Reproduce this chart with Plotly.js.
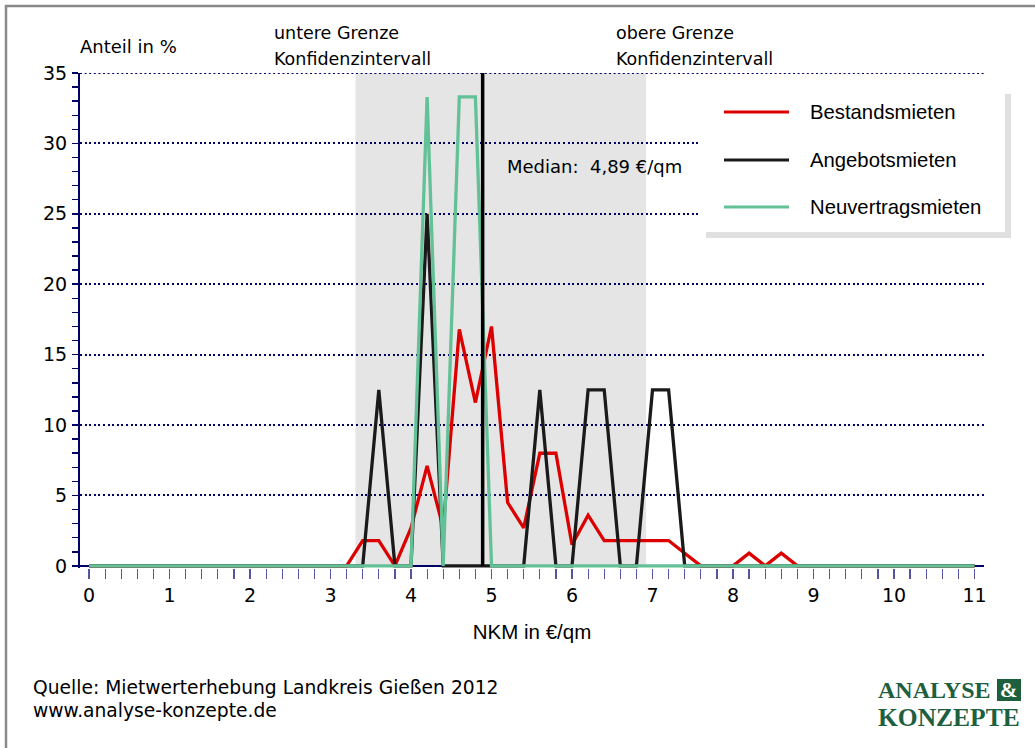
<!DOCTYPE html>
<html>
<head>
<meta charset="utf-8">
<script src="https://cdn.plot.ly/plotly-3.0.1.min.js"></script>
<style>
  html, body { margin: 0; padding: 0; background: #ffffff; }
  #chart { width: 1035px; height: 748px; }
</style>
</head>
<body>
<div id="chart"></div>
<script>
// ---------- data ----------
const rentSteps = [0,0.2,0.4,0.6,0.8,1,1.2,1.4,1.6,1.8,2,2.2,2.4,2.6,2.8,3,3.2,3.4,3.6,3.8,
  4,4.2,4.4,4.6,4.8,5,5.2,5.4,5.6,5.8,6,6.2,6.4,6.6,6.8,7,7.2,7.4,7.6,7.8,
  8,8.2,8.4,8.6,8.8,9,9.2,9.4,9.6,9.8,10,10.2,10.4,10.6,10.8,11];

const bestandsmieten = [0,0,0,0,0, 0,0,0,0,0, 0,0,0,0,0, 0,0,
  1.8,1.8,0, 2.7,7.1,2.7,16.8,11.6, 17.0,4.5,2.7,8.0,8.0,
  1.5,3.6,1.8,1.8,1.8, 1.8,1.8,0.9,0,0, 0,0.9,0,0.9,0,
  0,0,0,0,0, 0,0,0,0,0, 0];

const angebotsmieten = [0,0,0,0,0, 0,0,0,0,0, 0,0,0,0,0, 0,0,
  0,12.5,0, 0,25,0,0,0, 0,0,0,12.5,0,
  0,12.5,12.5,0,0, 12.5,12.5,0,0,0, 0,0,0,0,0,
  0,0,0,0,0, 0,0,0,0,0, 0];

const neuvertragsmieten = [0,0,0,0,0, 0,0,0,0,0, 0,0,0,0,0, 0,0,
  0,0,0, 0,33.3,0,33.3,33.3, 0,0,0,0,0,
  0,0,0,0,0, 0,0,0,0,0, 0,0,0,0,0,
  0,0,0,0,0, 0,0,0,0,0, 0];

const seriesNames = ['Bestandsmieten', 'Angebotsmieten', 'Neuvertragsmieten'];
const seriesColors = ['#dd0000', '#1a1a1a', '#62c196'];

const medianValue = 4.89;
const ciLower = 3.31;
const ciUpper = 6.92;

const yTickVals = [0,5,10,15,20,25,30,35];
const xTickVals = [0,1,2,3,4,5,6,7,8,9,10,11];

// ---------- layout helpers (pixel -> paper) ----------
const L = 80, R = 51, T = 73, B = 180, W = 1035, H = 748;
const PW = W - L - R, PH = H - T - B;
const px = v => (v - L) / PW;
const py = v => (H - B - v) / PH;
const X_RANGE = [-0.112, 11.118];
const Y_RANGE = [-0.15, 35];

const navy = '#000066';
const tahoma = 'DejaVu Sans, Verdana, sans-serif';
const arial = 'Liberation Sans, Arial, sans-serif';
const serif = 'Liberation Serif, Times New Roman, serif';
const logoGreen = '#1d5f3f';

const traces = [bestandsmieten, angebotsmieten, neuvertragsmieten].map((ys, i) => ({
  type: 'scatter', mode: 'lines', name: seriesNames[i],
  x: rentSteps, y: ys,
  line: { color: seriesColors[i], width: 3.3 },
  hoverinfo: 'x+y+name', showlegend: false
}));

function ann(text, xp, yp, font, xanchor) {
  return { text: text, xref: 'paper', yref: 'paper', x: px(xp), y: py(yp),
    xanchor: xanchor || 'left', yanchor: 'middle', showarrow: false, font: font };
}

const annotations = [
  ann('Anteil in %', 78, 46, { family: tahoma, size: 18, color: '#000' }),
  ann('untere Grenze', 272, 33, { family: tahoma, size: 17.5, color: '#000' }),
  ann('Konfidenzintervall', 272, 59, { family: tahoma, size: 17.5, color: '#000' }),
  ann('obere Grenze', 614, 33, { family: tahoma, size: 17.5, color: '#000' }),
  ann('Konfidenzintervall', 614, 59, { family: tahoma, size: 17.5, color: '#000' }),
  ann('Median:  ' + String(medianValue).replace('.', ',') + ' €/qm', 505, 166,
      { family: tahoma, size: 18, color: '#000' }),
  ann('Quelle: Mietwerterhebung Landkreis Gießen 2012', 31, 687, { family: tahoma, size: 18.7, color: '#000' }),
  ann('www.analyse-konzepte.de', 31, 711, { family: tahoma, size: 18.7, color: '#000' }),
  ann('<b>ANALYSE</b>', 876, 690, { family: serif, size: 24, color: logoGreen }),
  ann('<b>&</b>', 1009, 690, { family: serif, size: 21, color: '#ffffff' }, 'center'),
  ann('<b>KONZEPTE</b>', 876, 717, { family: serif, size: 25.5, color: logoGreen })
];

const legendY = [112, 160, 207];
seriesNames.forEach((n, i) => {
  annotations.push(ann(n, 808, legendY[i], { family: arial, size: 20.3, color: '#000' }));
});

const shapes = [
  // confidence interval band
  { type: 'rect', xref: 'x', yref: 'y', x0: ciLower, x1: ciUpper, y0: 0, y1: 35,
    fillcolor: '#e5e5e5', line: { width: 0 }, layer: 'below' },
  // top gridline (35)
  { type: 'line', xref: 'x', yref: 'y', x0: X_RANGE[0], x1: X_RANGE[1], y0: 35, y1: 35,
    line: { color: navy, width: 2, dash: '2px,2.6px' }, layer: 'below' },
  // x axis base line at y = 0 (below the traces)
  { type: 'line', xref: 'x', yref: 'y', x0: X_RANGE[0], x1: X_RANGE[1], y0: 0, y1: 0,
    line: { color: navy, width: 2 }, layer: 'below' },
  // median line
  { type: 'line', xref: 'x', yref: 'y', x0: medianValue, x1: medianValue, y0: 0, y1: 35,
    line: { color: '#000000', width: 3.5 }, layer: 'above' },
  // outer frame
  { type: 'rect', xref: 'paper', yref: 'paper', x0: px(6), x1: px(1060), y0: py(6), y1: py(780),
    fillcolor: 'rgba(0,0,0,0)', line: { color: '#8a8a8a', width: 2.5 }, layer: 'above' },
  // legend shadow + box
  { type: 'rect', xref: 'paper', yref: 'paper', x0: px(706), x1: px(1011), y0: py(94), y1: py(238),
    fillcolor: '#e0e0e0', line: { width: 0 }, layer: 'above' },
  { type: 'rect', xref: 'paper', yref: 'paper', x0: px(700), x1: px(1005), y0: py(88), y1: py(232),
    fillcolor: '#ffffff', line: { width: 0 }, layer: 'above' },
  // logo box
  { type: 'rect', xref: 'paper', yref: 'paper', x0: px(997), x1: px(1021), y0: py(679), y1: py(701),
    fillcolor: logoGreen, line: { width: 0 }, layer: 'above' }
];
seriesColors.forEach((c, i) => {
  shapes.push({ type: 'line', xref: 'paper', yref: 'paper', x0: px(724), x1: px(789),
    y0: py(legendY[i]), y1: py(legendY[i]), line: { color: c, width: 3 }, layer: 'above' });
});

const layout = {
  width: W, height: H,
  margin: { l: L, r: R, t: T, b: B, pad: 0 },
  paper_bgcolor: '#ffffff', plot_bgcolor: '#ffffff',
  showlegend: false,
  font: { family: arial, color: '#000' },
  xaxis: {
    range: X_RANGE, tickvals: xTickVals, ticktext: xTickVals.map(String),
    showgrid: false, zeroline: false,
    showline: false,
    ticks: 'outside', ticklen: 10, tickwidth: 1.2, tickcolor: '#55559f',
    minor: { dtick: 0.2, tick0: 0, ticks: 'outside', ticklen: 10, tickwidth: 1.2, tickcolor: '#55559f', showgrid: false },
    tickfont: { family: tahoma, size: 19, color: '#000' },
    title: { text: 'NKM in €/qm', font: { family: arial, size: 20.5, color: '#000' }, standoff: 19 },
    fixedrange: true
  },
  yaxis: {
    range: Y_RANGE, tickvals: yTickVals, ticktext: yTickVals.map(String),
    showgrid: true, gridcolor: navy, gridwidth: 2, griddash: '2px,2.6px',
    zeroline: false,
    showline: true, linecolor: navy, linewidth: 2,
    ticks: 'outside', ticklen: 6, tickwidth: 1.5, tickcolor: navy,
    minor: { dtick: 1, tick0: 0, ticks: 'outside', ticklen: 6, tickwidth: 1.5, tickcolor: navy, showgrid: false },
    tickfont: { family: tahoma, size: 19, color: '#000' },
    ticklabelstandoff: 1,
    fixedrange: true
  },
  shapes: shapes,
  annotations: annotations
};

Plotly.newPlot('chart', traces, layout, { displayModeBar: false, staticPlot: true });
</script>
</body>
</html>
